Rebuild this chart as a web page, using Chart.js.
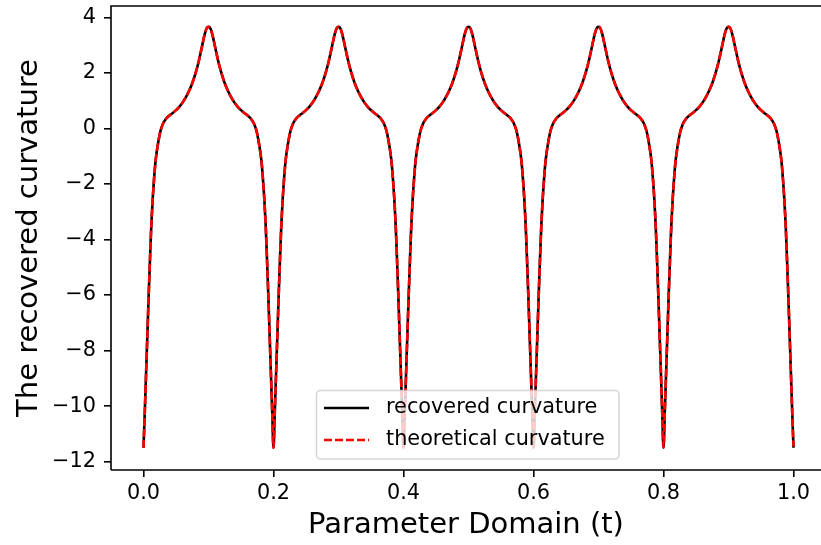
<!DOCTYPE html>
<html>
<head>
<meta charset="utf-8">
<script src="https://cdn.jsdelivr.net/npm/chart.js@4/dist/chart.umd.min.js"></script>
<style>
  html, body { margin: 0; padding: 0; background: #fff; overflow: hidden; }
  canvas { display: block; }
</style>
</head>
<body>
<canvas id="chart" width="821" height="545"></canvas>
<script>
// Parameter samples t over [0, 1]
const tParam = [
  0, .002, .004, .006, .008, .01, .012, .014, .016, .018, .02, .023, .026, .03, .035, .04, .045, .05, .055, .06, .065, .07, .075, .08, .085, .09, .094, .097,
  .1, .103, .106, .11, .115, .12, .125, .13, .135, .14, .145, .15, .155, .16, .165, .17, .174, .177, .18, .182, .184, .186, .188, .19, .192, .194, .196, .198,
  .2, .202, .204, .206, .208, .21, .212, .214, .216, .218, .22, .223, .226, .23, .235, .24, .245, .25, .255, .26, .265, .27, .275, .28, .285, .29, .294, .297,
  .3, .303, .306, .31, .315, .32, .325, .33, .335, .34, .345, .35, .355, .36, .365, .37, .374, .377, .38, .382, .384, .386, .388, .39, .392, .394, .396, .398,
  .4, .402, .404, .406, .408, .41, .412, .414, .416, .418, .42, .423, .426, .43, .435, .44, .445, .45, .455, .46, .465, .47, .475, .48, .485, .49, .494, .497,
  .5, .503, .506, .51, .515, .52, .525, .53, .535, .54, .545, .55, .555, .56, .565, .57, .574, .577, .58, .582, .584, .586, .588, .59, .592, .594, .596, .598,
  .6, .602, .604, .606, .608, .61, .612, .614, .616, .618, .62, .623, .626, .63, .635, .64, .645, .65, .655, .66, .665, .67, .675, .68, .685, .69, .694, .697,
  .7, .703, .706, .71, .715, .72, .725, .73, .735, .74, .745, .75, .755, .76, .765, .77, .774, .777, .78, .782, .784, .786, .788, .79, .792, .794, .796, .798,
  .8, .802, .804, .806, .808, .81, .812, .814, .816, .818, .82, .823, .826, .83, .835, .84, .845, .85, .855, .86, .865, .87, .875, .88, .885, .89, .894, .897,
  .9, .903, .906, .91, .915, .92, .925, .93, .935, .94, .945, .95, .955, .96, .965, .97, .974, .977, .98, .982, .984, .986, .988, .99, .992, .994, .996, .998,
  1
];

// Curvature recovered from the sampled curve
const recoveredCurvature = [
  -11.5, -10.2, -8.8, -7.4, -6.0, -4.7, -3.5, -2.6, -1.9, -1.3, -0.9, -0.45, -0.1, 0.17, 0.36, 0.47, 0.56, 0.66, 0.78, 0.93, 1.12, 1.35, 1.63, 1.98, 2.42, 2.95, 3.38, 3.6,
  3.66, 3.6, 3.38, 2.95, 2.42, 1.98, 1.63, 1.35, 1.12, 0.93, 0.78, 0.66, 0.56, 0.47, 0.36, 0.17, -0.1, -0.45, -0.9, -1.3, -1.9, -2.6, -3.5, -4.7, -6.0, -7.4, -8.8, -10.2,
  -11.5, -10.2, -8.8, -7.4, -6.0, -4.7, -3.5, -2.6, -1.9, -1.3, -0.9, -0.45, -0.1, 0.17, 0.36, 0.47, 0.56, 0.66, 0.78, 0.93, 1.12, 1.35, 1.63, 1.98, 2.42, 2.95, 3.38, 3.6,
  3.66, 3.6, 3.38, 2.95, 2.42, 1.98, 1.63, 1.35, 1.12, 0.93, 0.78, 0.66, 0.56, 0.47, 0.36, 0.17, -0.1, -0.45, -0.9, -1.3, -1.9, -2.6, -3.5, -4.7, -6.0, -7.4, -8.8, -10.2,
  -11.5, -10.2, -8.8, -7.4, -6.0, -4.7, -3.5, -2.6, -1.9, -1.3, -0.9, -0.45, -0.1, 0.17, 0.36, 0.47, 0.56, 0.66, 0.78, 0.93, 1.12, 1.35, 1.63, 1.98, 2.42, 2.95, 3.38, 3.6,
  3.66, 3.6, 3.38, 2.95, 2.42, 1.98, 1.63, 1.35, 1.12, 0.93, 0.78, 0.66, 0.56, 0.47, 0.36, 0.17, -0.1, -0.45, -0.9, -1.3, -1.9, -2.6, -3.5, -4.7, -6.0, -7.4, -8.8, -10.2,
  -11.5, -10.2, -8.8, -7.4, -6.0, -4.7, -3.5, -2.6, -1.9, -1.3, -0.9, -0.45, -0.1, 0.17, 0.36, 0.47, 0.56, 0.66, 0.78, 0.93, 1.12, 1.35, 1.63, 1.98, 2.42, 2.95, 3.38, 3.6,
  3.66, 3.6, 3.38, 2.95, 2.42, 1.98, 1.63, 1.35, 1.12, 0.93, 0.78, 0.66, 0.56, 0.47, 0.36, 0.17, -0.1, -0.45, -0.9, -1.3, -1.9, -2.6, -3.5, -4.7, -6.0, -7.4, -8.8, -10.2,
  -11.5, -10.2, -8.8, -7.4, -6.0, -4.7, -3.5, -2.6, -1.9, -1.3, -0.9, -0.45, -0.1, 0.17, 0.36, 0.47, 0.56, 0.66, 0.78, 0.93, 1.12, 1.35, 1.63, 1.98, 2.42, 2.95, 3.38, 3.6,
  3.66, 3.6, 3.38, 2.95, 2.42, 1.98, 1.63, 1.35, 1.12, 0.93, 0.78, 0.66, 0.56, 0.47, 0.36, 0.17, -0.1, -0.45, -0.9, -1.3, -1.9, -2.6, -3.5, -4.7, -6.0, -7.4, -8.8, -10.2,
  -11.5
];

// Closed-form curvature of the reference curve
const theoreticalCurvature = [
  -11.5, -10.2, -8.8, -7.4, -6.0, -4.7, -3.5, -2.6, -1.9, -1.3, -0.9, -0.45, -0.1, 0.17, 0.36, 0.47, 0.56, 0.66, 0.78, 0.93, 1.12, 1.35, 1.63, 1.98, 2.42, 2.95, 3.38, 3.6,
  3.66, 3.6, 3.38, 2.95, 2.42, 1.98, 1.63, 1.35, 1.12, 0.93, 0.78, 0.66, 0.56, 0.47, 0.36, 0.17, -0.1, -0.45, -0.9, -1.3, -1.9, -2.6, -3.5, -4.7, -6.0, -7.4, -8.8, -10.2,
  -11.5, -10.2, -8.8, -7.4, -6.0, -4.7, -3.5, -2.6, -1.9, -1.3, -0.9, -0.45, -0.1, 0.17, 0.36, 0.47, 0.56, 0.66, 0.78, 0.93, 1.12, 1.35, 1.63, 1.98, 2.42, 2.95, 3.38, 3.6,
  3.66, 3.6, 3.38, 2.95, 2.42, 1.98, 1.63, 1.35, 1.12, 0.93, 0.78, 0.66, 0.56, 0.47, 0.36, 0.17, -0.1, -0.45, -0.9, -1.3, -1.9, -2.6, -3.5, -4.7, -6.0, -7.4, -8.8, -10.2,
  -11.5, -10.2, -8.8, -7.4, -6.0, -4.7, -3.5, -2.6, -1.9, -1.3, -0.9, -0.45, -0.1, 0.17, 0.36, 0.47, 0.56, 0.66, 0.78, 0.93, 1.12, 1.35, 1.63, 1.98, 2.42, 2.95, 3.38, 3.6,
  3.66, 3.6, 3.38, 2.95, 2.42, 1.98, 1.63, 1.35, 1.12, 0.93, 0.78, 0.66, 0.56, 0.47, 0.36, 0.17, -0.1, -0.45, -0.9, -1.3, -1.9, -2.6, -3.5, -4.7, -6.0, -7.4, -8.8, -10.2,
  -11.5, -10.2, -8.8, -7.4, -6.0, -4.7, -3.5, -2.6, -1.9, -1.3, -0.9, -0.45, -0.1, 0.17, 0.36, 0.47, 0.56, 0.66, 0.78, 0.93, 1.12, 1.35, 1.63, 1.98, 2.42, 2.95, 3.38, 3.6,
  3.66, 3.6, 3.38, 2.95, 2.42, 1.98, 1.63, 1.35, 1.12, 0.93, 0.78, 0.66, 0.56, 0.47, 0.36, 0.17, -0.1, -0.45, -0.9, -1.3, -1.9, -2.6, -3.5, -4.7, -6.0, -7.4, -8.8, -10.2,
  -11.5, -10.2, -8.8, -7.4, -6.0, -4.7, -3.5, -2.6, -1.9, -1.3, -0.9, -0.45, -0.1, 0.17, 0.36, 0.47, 0.56, 0.66, 0.78, 0.93, 1.12, 1.35, 1.63, 1.98, 2.42, 2.95, 3.38, 3.6,
  3.66, 3.6, 3.38, 2.95, 2.42, 1.98, 1.63, 1.35, 1.12, 0.93, 0.78, 0.66, 0.56, 0.47, 0.36, 0.17, -0.1, -0.45, -0.9, -1.3, -1.9, -2.6, -3.5, -4.7, -6.0, -7.4, -8.8, -10.2,
  -11.45
];

const seriesNames = ['recovered curvature', 'theoretical curvature'];
const xTickValues = [0, 0.2, 0.4, 0.6, 0.8, 1.0];
const yTickValues = [-12, -10, -8, -6, -4, -2, 0, 2, 4];
const xAxisTitle = 'Parameter Domain (t)';
const yAxisTitle = 'The recovered curvature';

const FONT = 'DejaVu Sans';
Chart.defaults.font.family = FONT;
Chart.defaults.color = '#000';

const toPoints = (ys) => tParam.map((t, i) => ({ x: t, y: ys[i] }));

// Axes frame (left, top, bottom spines; right edge runs past the canvas)
const framePlugin = {
  id: 'frame',
  afterDatasetsDraw(chart) {
    const { ctx, chartArea: a } = chart;
    ctx.save();
    ctx.strokeStyle = '#000';
    ctx.lineWidth = 1.6;
    ctx.beginPath();
    ctx.moveTo(a.left, a.bottom);
    ctx.lineTo(a.left, a.top);
    ctx.lineTo(a.right + 2, a.top);
    ctx.moveTo(a.left, a.bottom);
    ctx.lineTo(a.right + 2, a.bottom);
    ctx.stroke();
    ctx.restore();
  }
};

// Boxed legend inside the plot
const legendPlugin = {
  id: 'boxLegend',
  afterDraw(chart) {
    const { ctx } = chart;
    const x0 = 316.5, y0 = 390.5, w = 302.5, h = 68.5, r = 4;
    ctx.save();
    ctx.beginPath();
    ctx.moveTo(x0 + r, y0);
    ctx.arcTo(x0 + w, y0, x0 + w, y0 + h, r);
    ctx.arcTo(x0 + w, y0 + h, x0, y0 + h, r);
    ctx.arcTo(x0, y0 + h, x0, y0, r);
    ctx.arcTo(x0, y0, x0 + w, y0, r);
    ctx.closePath();
    ctx.fillStyle = 'rgba(255,255,255,0.8)';
    ctx.fill();
    ctx.strokeStyle = 'rgba(204,204,204,0.8)';
    ctx.lineWidth = 1.6;
    ctx.stroke();

    const rows = [
      { ds: chart.data.datasets[0], y: 408 },
      { ds: chart.data.datasets[1], y: 440 }
    ];
    rows.forEach(({ ds, y }) => {
      ctx.beginPath();
      ctx.strokeStyle = ds.borderColor;
      ctx.lineWidth = ds.borderWidth;
      ctx.setLineDash(ds.borderDash || []);
      ctx.moveTo(324, y);
      ctx.lineTo(369, y);
      ctx.stroke();
      ctx.setLineDash([]);
      ctx.fillStyle = '#000';
      ctx.font = '20.8px "' + FONT + '"';
      ctx.textBaseline = 'middle';
      ctx.textAlign = 'left';
      ctx.fillText(ds.label, 386, y);
    });
    ctx.restore();
  }
};

new Chart(document.getElementById('chart'), {
  type: 'line',
  data: {
    datasets: [
      {
        label: seriesNames[0],
        data: toPoints(recoveredCurvature),
        borderColor: '#000000',
        borderWidth: 2.6,
        pointRadius: 0,
        cubicInterpolationMode: 'monotone',
        order: 1
      },
      {
        label: seriesNames[1],
        data: toPoints(theoreticalCurvature),
        borderColor: '#ff0000',
        borderWidth: 2.6,
        borderDash: [8, 3],
        pointRadius: 0,
        cubicInterpolationMode: 'monotone',
        order: 0
      }
    ]
  },
  options: {
    responsive: false,
    devicePixelRatio: 1,
    animation: false,
    events: [],
    layout: { padding: { top: 6, right: 0, bottom: 0, left: 0 } },
    plugins: { legend: { display: false }, tooltip: { enabled: false } },
    scales: {
      x: {
        type: 'linear',
        min: -0.05,
        max: 1.0423,
        afterFit(scale) {
          scale.height = 75;
          scale.paddingLeft = 0;
          scale.paddingRight = 0;
        },
        afterBuildTicks(scale) { scale.ticks = xTickValues.map(v => ({ value: v })); },
        border: { display: false },
        grid: { drawOnChartArea: false, drawTicks: true, tickLength: 7, color: '#000', lineWidth: 1.6 },
        ticks: {
          padding: 4,
          maxRotation: 0,
          font: { size: 20.8 },
          callback: (v) => Number(v).toFixed(1)
        },
        title: {
          display: true,
          text: xAxisTitle,
          font: { size: 29 },
          padding: { top: 0, bottom: 2 }
        }
      },
      y: {
        type: 'linear',
        min: -12.3,
        max: 4.41,
        afterFit(scale) {
          scale.width = 111;
          scale.paddingTop = 0;
          scale.paddingBottom = 0;
        },
        afterBuildTicks(scale) { scale.ticks = yTickValues.map(v => ({ value: v })); },
        border: { display: false },
        grid: { drawOnChartArea: false, drawTicks: true, tickLength: 7, color: '#000', lineWidth: 1.6 },
        ticks: {
          padding: 8,
          font: { size: 20.8 },
          callback: (v) => (v < 0 ? '\u2212' + Math.abs(v) : String(v))
        },
        title: {
          display: true,
          text: yAxisTitle,
          font: { size: 29 },
          padding: { top: 12, bottom: 0 }
        }
      }
    }
  },
  plugins: [framePlugin, legendPlugin]
});
</script>
</body>
</html>
